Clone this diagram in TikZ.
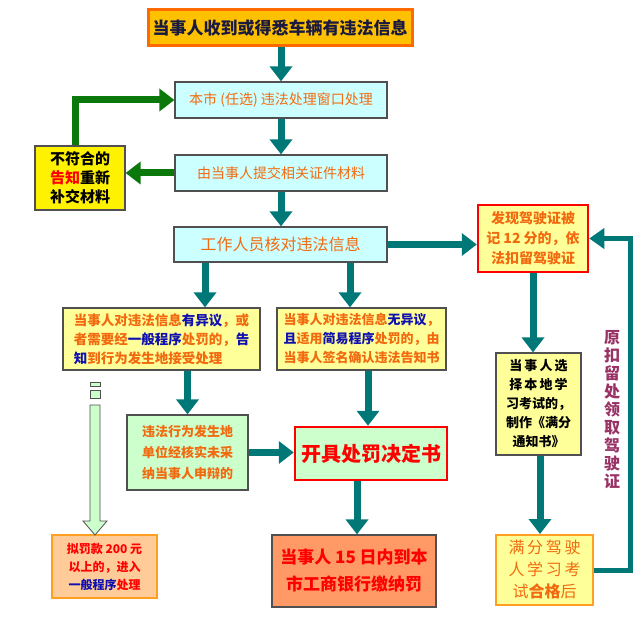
\documentclass[tikz,border=0pt]{standalone}
\usepackage{fontspec}
\setmainfont{Noto Sans CJK SC}
\usetikzlibrary{arrows.meta}
\definecolor{tealc}{HTML}{007878}
\definecolor{greenc}{HTML}{0A780A}
\definecolor{orangetxt}{HTML}{F26A10}
\definecolor{bluetxt}{HTML}{1010B0}
\definecolor{navy}{HTML}{1A1A40}
\definecolor{goldfill}{HTML}{FFC000}
\definecolor{orangeline}{HTML}{FF6A00}
\definecolor{cyanfill}{HTML}{CCFFFF}
\definecolor{lyellow}{HTML}{FFFF99}
\definecolor{lgreen}{HTML}{CCFFCC}
\definecolor{salmon}{HTML}{FF9966}
\definecolor{peach}{HTML}{FFCC99}
\definecolor{amber}{HTML}{FFA020}
\definecolor{purplec}{HTML}{993366}
\definecolor{boxline}{HTML}{505050}
\newcommand{\bl}[1]{\textcolor{bluetxt}{#1}}
\begin{document}
\begin{tikzpicture}[x=1pt,y=-1pt,
  box/.style={draw=boxline,line width=1.2pt,inner sep=2pt,align=center},
  cyanbox/.style={box,fill=cyanfill,text=orangetxt,minimum width=212,minimum height=36},
  ybox/.style={box,fill=lyellow},
  redbox/.style={box,draw=red,line width=2.5pt},
  tarrow/.style={draw=tealc,line width=7pt,-{Triangle[length=15pt,width=22pt]}},
  garrow/.style={draw=greenc,line width=7pt,-{Triangle[length=15pt,width=22pt]}},
  looparrow/.style={draw=tealc,line width=5pt,-{Triangle[length=15pt,width=20pt]}}]
\useasboundingbox[fill=white] (0,0) rectangle (640,631);

% main column
\node[box,fill=goldfill,draw=orangeline,line width=3pt,minimum width=264,minimum height=36,
  text=navy,font=\fontsize{17}{20}\selectfont\bfseries] (title) at (280,28) {当事人收到或得悉车辆有违法信息};
\node[cyanbox,font=\fontsize{14}{18}\selectfont] (b2) at (281,100) {本市 (任选) 违法处理窗口处理};
\node[cyanbox,font=\fontsize{14}{18}\selectfont] (b3) at (281,173) {由当事人提交相关证件材料};
\node[cyanbox,minimum width=213,minimum height=35,font=\fontsize{16}{20}\selectfont] (b4) at (280.5,244.5) {工作人员核对违法信息};

\node[box,fill=yellow,minimum width=90,minimum height=64,font=\fontsize{15}{19}\selectfont\bfseries] (ly) at (80,178)
  {不符合的\\\textcolor{red}{告知}重新\\补交材料};

\node[redbox,fill=lyellow,minimum width=110,minimum height=67,text=orangetxt,font=\fontsize{14}{20}\selectfont\bfseries] (rb) at (533,238.5)
  {发现驾驶证被\\记 12 分的，依\\法扣留驾驶证};

\node[ybox,minimum width=197,minimum height=62,text=orangetxt,font=\fontsize{13.5}{19}\selectfont\bfseries,align=left] (ml) at (161.5,339)
  {当事人对违法信息\bl{有异议}，或\\者需要经\bl{一般程序}处罚的，\bl{告}\\\bl{知}到行为发生地接受处理};
\node[ybox,minimum width=169,minimum height=62,text=orangetxt,font=\fontsize{13}{19}\selectfont\bfseries,align=left] (mr) at (361.5,339)
  {当事人对违法信息\bl{无异议}，\\\bl{且}适用\bl{简易程序}处罚的，由\\当事人签名确认违法告知书};

\node[box,fill=lgreen,minimum width=121,minimum height=75,text=orangetxt,font=\fontsize{13}{21}\selectfont\bfseries] (gb) at (187.5,452.5)
  {违法行为发生地\\单位经核实未采\\纳当事人申辩的};
\node[redbox,fill=lgreen,minimum width=152,minimum height=53,text=red,font=\fontsize{20}{24}\selectfont\bfseries] (kj) at (371,453.5)
  {开具处罚决定书};
\node[box,fill=salmon,minimum width=164,minimum height=72,text=red,font=\fontsize{17}{27}\selectfont\bfseries] (bo) at (354,571)
  {当事人 15 日内到本\\市工商银行缴纳罚};
\node[box,fill=peach,draw=amber,line width=2pt,minimum width=105,minimum height=63,text=red,font=\fontsize{12}{18}\selectfont\bfseries] (blb) at (104.5,566.5)
  {拟罚款 200 元\\以上的，进入\\\bl{一般程序}处理};

% right column
\node[ybox,minimum width=85,minimum height=102,font=\fontsize{13}{19}\selectfont\bfseries] (rbx) at (538.5,404)
  {当\,事\,人\,选\\择\,本\,地\,学\\习考试的，\\制作《满分\\通知书》};
\node[ybox,draw=amber,line width=2pt,minimum width=97,minimum height=70,text=orangetxt,font=\fontsize{16}{22}\selectfont] (lb) at (544.5,570)
  {满\,分\,驾\,驶\\人\,学\,习\,考\\试\textbf{合格}后};
\node[text=purplec,align=center,font=\fontsize{16}{18}\selectfont\bfseries] (vt) at (612,410)
  {原\\扣\\留\\处\\领\\取\\驾\\驶\\证};

% connectors
\draw[tarrow] (b2.north |- title.south) -- (b2.north);
\draw[tarrow] (b2.south) -- (b3.north);
\draw[tarrow] (b3.south) -- (b3.south |- b4.north);
\draw[garrow] (b3.west) -- (b3.west -| ly.east);
\draw[garrow] ([xshift=-5pt]ly.north) |- (b2.west);
\draw[tarrow] (b4.east) -- (b4.east -| rb.west);
\draw[tarrow] ([xshift=43.5pt]ml.north |- b4.south) -- ([xshift=43.5pt]ml.north);
\draw[tarrow] ([xshift=-11.5pt]mr.north |- b4.south) -- ([xshift=-11.5pt]mr.north);
\draw[tarrow] (gb.north |- ml.south) -- (gb.north);
\draw[tarrow] (gb.east) -- (gb.east -| kj.west);
\draw[tarrow] ([xshift=-3pt]kj.north |- mr.south) -- ([xshift=-3pt]kj.north);
\draw[tarrow] ([xshift=3pt]bo.north |- kj.south) -- ([xshift=3pt]bo.north);
\draw[tarrow] (rb.south) -- (rb.south |- rbx.north);
\draw[tarrow] ([xshift=1.5pt]rbx.south) -- ([xshift=1.5pt]rbx.south |- lb.north);
\coordinate (lc) at (630,570);
\draw[looparrow] (lb.east) -- (lc) |- (rb.east);

% hollow arrow to bottom-left box
\draw[fill=lgreen,draw=boxline,line width=0.8pt] (90,382) rectangle (100,386);
\draw[fill=lgreen,draw=boxline,line width=0.8pt] (90,390) rectangle (100,398);
\draw[fill=lgreen,draw=boxline,line width=0.8pt]
  (90,405) -- (100,405) -- (100,521) -- (107,521) -- (95,535) -- (83,521) -- (90,521) -- cycle;
\end{tikzpicture}
\end{document}
